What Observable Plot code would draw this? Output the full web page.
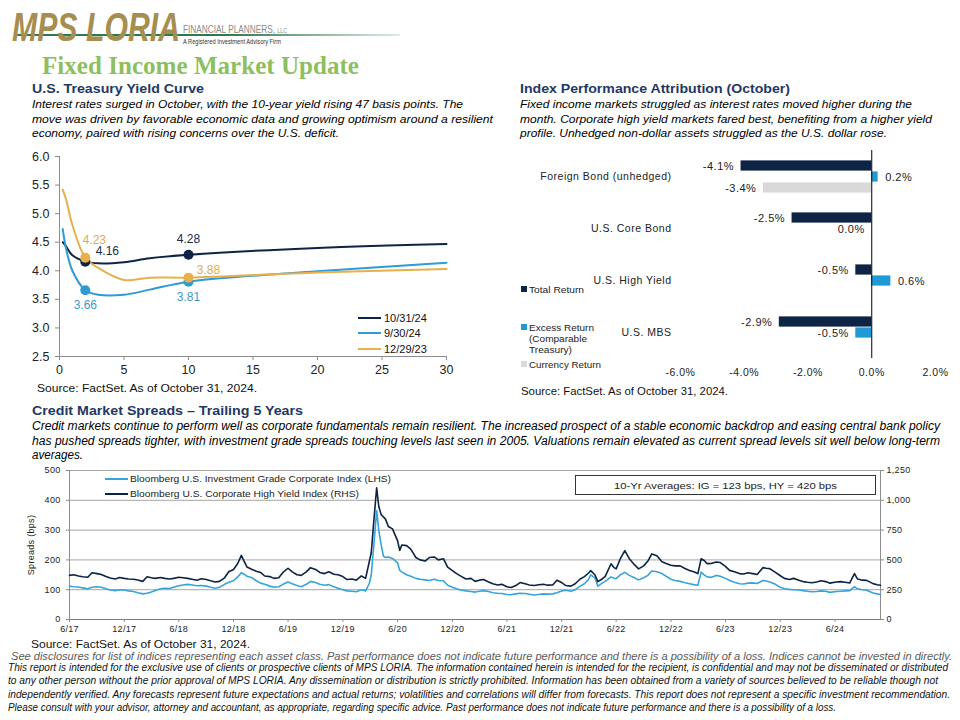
<!DOCTYPE html>
<html><head><meta charset="utf-8">
<script src="https://cdn.jsdelivr.net/npm/d3@7"></script>
<script src="https://cdn.jsdelivr.net/npm/@observablehq/plot@0.6"></script>
<style>
body{margin:0;background:#fff}
#page{position:relative;width:960px;height:720px;overflow:hidden;font-family:'Liberation Sans',Arial,sans-serif;color:#000;background:#fff}
.abs{position:absolute;white-space:nowrap}
.fit{display:inline-block;transform-origin:0 50%}
.chart{position:absolute}
.chart svg{overflow:visible}
.bars text{letter-spacing:.5px}
.credit text{letter-spacing:.3px}
</style></head>
<body><div id="page"></div>
<script>
// ---------- DATA ----------
// Yield curve
const yieldMaturities = [0.25, 0.5, 1, 2, 3, 5, 7, 10, 20, 30];
const yieldSeries = ["10/31/24", "9/30/24", "12/29/23"];
const yieldOct24 = [4.50, 4.43, 4.27, 4.16, 4.13, 4.15, 4.22, 4.28, 4.40, 4.47];
const yieldSep24 = [4.73, 4.40, 4.00, 3.66, 3.58, 3.58, 3.67, 3.81, 3.99, 4.14];
const yieldDec23 = [5.42, 5.26, 4.80, 4.23, 4.05, 3.84, 3.88, 3.88, 3.97, 4.03];
const yieldMarked = [2, 10];
const yieldXTicks = [0, 5, 10, 15, 20, 25, 30];
const yieldYTicks = [2.5, 3.0, 3.5, 4.0, 4.5, 5.0, 5.5, 6.0];

// Index performance attribution
const barCategories = ["Foreign Bond (unhedged)", "U.S. Core Bond", "U.S. High Yield", "U.S. MBS"];
const barSeries = ["Total Return", "Excess Return (Comparable Treasury)", "Currency Return"];
const totalReturn = [-4.1, -2.5, -0.5, -2.9];
const excessReturn = [0.2, 0.0, 0.6, -0.5];
const currencyReturn = [-3.4, null, null, null];
const barXTicks = [-6, -4, -2, 0, 2];

// Credit spreads (IG in bps, left axis; HY in bps, right axis)
const creditDates = [
"2017-06-01","2017-06-15","2017-07-01","2017-07-15","2017-08-01","2017-08-15","2017-09-01","2017-09-15","2017-10-01","2017-10-15","2017-11-01","2017-11-15","2017-12-01","2017-12-15",
"2018-01-01","2018-01-15","2018-02-01","2018-02-15","2018-03-01","2018-03-15","2018-04-01","2018-04-15","2018-05-01","2018-05-15","2018-06-01","2018-06-15","2018-07-01","2018-07-15","2018-08-01","2018-08-15","2018-09-01","2018-09-15","2018-10-01","2018-10-15","2018-11-01","2018-11-15","2018-12-01","2018-12-15","2018-12-27",
"2019-01-05","2019-01-15","2019-02-01","2019-02-15","2019-03-01","2019-03-15","2019-04-01","2019-04-15","2019-05-01","2019-05-15","2019-06-01","2019-06-15","2019-07-01","2019-07-15","2019-08-01","2019-08-15","2019-09-01","2019-09-15","2019-10-01","2019-10-15","2019-11-01","2019-11-15","2019-12-01","2019-12-15",
"2020-01-01","2020-01-15","2020-02-01","2020-02-15","2020-02-27","2020-03-05","2020-03-12","2020-03-23","2020-03-30","2020-04-07","2020-04-15","2020-04-22","2020-05-01","2020-05-15","2020-06-01","2020-06-08","2020-06-15","2020-07-01","2020-07-15","2020-08-01","2020-08-15","2020-09-01","2020-09-15","2020-10-01","2020-10-15","2020-11-01","2020-11-15","2020-12-01","2020-12-15",
"2021-01-01","2021-01-15","2021-02-01","2021-02-15","2021-03-01","2021-03-15","2021-04-01","2021-04-15","2021-05-01","2021-05-15","2021-06-01","2021-06-15","2021-07-01","2021-07-15","2021-08-01","2021-08-15","2021-09-01","2021-09-15","2021-10-01","2021-10-15","2021-11-01","2021-11-15","2021-12-01","2021-12-15",
"2022-01-01","2022-01-15","2022-02-01","2022-02-15","2022-03-01","2022-03-08","2022-03-22","2022-04-01","2022-04-15","2022-04-25","2022-05-15","2022-05-25","2022-06-01","2022-06-15","2022-06-30","2022-07-15","2022-08-01","2022-08-15","2022-09-01","2022-09-15","2022-09-28","2022-10-15","2022-11-01","2022-11-15","2022-12-01","2022-12-15",
"2023-01-01","2023-01-15","2023-02-01","2023-02-15","2023-03-01","2023-03-12","2023-03-22","2023-04-01","2023-04-15","2023-05-01","2023-05-15","2023-06-01","2023-06-15","2023-07-01","2023-07-18","2023-08-01","2023-08-15","2023-09-01","2023-09-15","2023-10-04","2023-10-15","2023-10-27","2023-11-15","2023-11-29","2023-12-15",
"2024-01-01","2024-01-15","2024-02-01","2024-02-15","2024-03-01","2024-03-15","2024-04-01","2024-04-15","2024-05-01","2024-05-15","2024-06-05","2024-06-20","2024-07-05","2024-07-20","2024-08-05","2024-08-15","2024-09-01","2024-09-15","2024-10-06","2024-10-20","2024-10-31"];
const igSpread = [
112,110,109,106,103,108,110,108,103,99,97,100,99,96,
94,90,86,88,92,97,103,105,104,108,113,116,118,116,113,114,112,108,105,108,118,125,130,143,157,
152,145,140,130,122,118,112,108,110,118,126,120,114,110,118,128,124,118,115,117,110,105,100,96,
95,93,100,96,120,150,230,366,300,250,212,208,210,205,190,165,160,150,145,138,135,133,131,135,131,130,115,108,103,
98,96,94,92,95,97,94,90,88,87,84,83,86,88,87,85,82,84,86,85,86,90,96,98,
95,100,112,120,135,150,140,112,122,128,143,138,137,150,158,148,140,133,140,148,163,160,154,145,135,131,
128,124,120,117,115,159,150,143,142,148,145,138,131,125,120,119,122,123,121,131,129,126,118,109,103,
101,100,99,97,95,93,94,96,95,91,94,95,96,97,110,103,100,98,89,86,84];
const hySpread = [
370,375,365,358,355,392,385,378,360,348,340,352,345,340,
338,332,320,358,350,345,352,345,340,345,355,350,345,338,330,342,335,325,315,320,350,400,420,470,538,
490,440,420,405,395,365,360,345,350,395,430,400,375,370,400,435,420,395,385,400,380,375,360,335,
340,330,365,345,480,560,780,1105,950,880,860,840,780,760,660,580,625,620,590,520,500,490,520,525,500,510,440,410,385,
360,340,345,320,330,335,315,300,290,295,275,268,285,310,300,290,285,292,295,288,290,330,310,285,
280,300,340,360,390,410,375,318,340,360,468,435,425,510,578,510,460,425,450,490,550,535,485,470,455,450,
450,430,412,400,385,510,495,469,470,482,478,445,412,400,385,382,392,385,378,435,430,427,395,371,345,
335,345,330,318,312,308,315,325,318,305,315,318,312,306,385,340,330,328,301,292,287];
const creditLeftTicks = [0, 100, 200, 300, 400, 500];
const creditRightTicks = [0, 250, 500, 750, 1000, 1250];
const creditXTicks = ["2017-06-01","2017-12-01","2018-06-01","2018-12-01","2019-06-01","2019-12-01","2020-06-01","2020-12-01","2021-06-01","2021-12-01","2022-06-01","2022-12-01","2023-06-01","2023-12-01","2024-06-01"];
const creditSeries = ["Bloomberg U.S. Investment Grade Corporate Index (LHS)", "Bloomberg U.S. Corporate High Yield Index (RHS)"];

// ---------- STYLE ----------
const NAVY = "#0e2444", BLUE = "#2e9bd5", GOLD = "#e8b04b", GRAY = "#d9d9d9";
const HEAD = "#1f3864";
const SANS = "'Liberation Sans', Arial, sans-serif";
const NARROW = "'Liberation Sans Narrow', 'Liberation Sans', Arial, sans-serif";

const page = document.getElementById("page");
function addText(text, x, cy, font, w, color = "#000", lh = 16, html = false) {
  const div = document.createElement("div");
  div.className = "abs";
  div.style.font = font;
  div.style.lineHeight = lh + "px";
  div.style.left = x + "px";
  div.style.top = (cy - lh / 2) + "px";
  div.style.color = color;
  const span = document.createElement("span");
  span.className = "fit";
  if (html) span.innerHTML = text; else span.textContent = text;
  div.appendChild(span);
  page.appendChild(div);
  if (w) {
    const nw = span.getBoundingClientRect().width;
    span.style.transform = `scaleX(${w / nw})`;
  }
  return div;
}
function addBox(x, y, w, h, css) {
  const d = document.createElement("div");
  d.className = "abs";
  d.style.cssText += `left:${x}px;top:${y}px;width:${w}px;height:${h}px;` + css;
  page.appendChild(d);
  return d;
}

// ---------- HEADER ----------
addBox(15, 34, 385, 2, "background:linear-gradient(to right,#2f7a4c 0%,#2f7a4c 55%,rgba(47,122,76,0.15) 100%)");
const logo = addText("MPS LORIA", 12, 27, `bold 41px ${NARROW}`, 168, "#a68d50", 40);
logo.querySelector("span").style.fontStyle = "italic";
addText("FINANCIAL PLANNERS, <span style='font-size:7px'>LLC</span>", 183, 29, `11px ${NARROW}`, 104, "#8a8a8a", 14, true);
addText("A Registered Investment Advisory Firm", 183, 42, `6.5px ${SANS}`, 98, "#333", 8);
addText("Fixed Income Market Update", 42, 66, `bold 25px 'Liberation Serif', serif`, 317, "#8dbf5e", 28);

// ---------- SECTION TEXT ----------
addText("U.S. Treasury Yield Curve", 32, 89, `bold 13px ${SANS}`, 172, HEAD);
[["Interest rates surged in October, with the 10-year yield rising 47 basis points. The", 431],
 ["move was driven by favorable economic data and growing optimism around a resilient", 461],
 ["economy, paired with rising concerns over the U.S. deficit.", 307]]
 .forEach(([t, w], i) => addText(t, 32, 104 + i * 14.5, `italic 11px ${SANS}`, w));

addText("Index Performance Attribution (October)", 520, 89, `bold 13px ${SANS}`, 270, HEAD);
[["Fixed income markets struggled as interest rates moved higher during the", 392],
 ["month. Corporate high yield markets fared best, benefiting from a higher yield", 412],
 ["profile. Unhedged non-dollar assets struggled as the U.S. dollar rose.", 367]]
 .forEach(([t, w], i) => addText(t, 520, 104 + i * 14.5, `italic 11px ${SANS}`, w));

addText("Credit Market Spreads \u2013 Trailing 5 Years", 32, 411, `bold 13px ${SANS}`, 271, HEAD);
[["Credit markets continue to perform well as corporate fundamentals remain resilient. The increased prospect of a stable economic backdrop and easing central bank policy", 908],
 ["has pushed spreads tighter, with  investment grade spreads touching levels last seen in 2005. Valuations remain elevated as current spread levels sit well below long-term", 908],
 ["averages.", 51]]
 .forEach(([t, w], i) => addText(t, 32, 426 + i * 14.5, `italic 12px ${NARROW}`, w));

// ---------- YIELD CURVE CHART ----------
const yieldValues = [yieldOct24, yieldSep24, yieldDec23];
const yieldRows = yieldSeries.flatMap((s, i) => yieldMaturities.map((m, j) => ({series: s, maturity: m, value: yieldValues[i][j]})));
const yieldColors = [NAVY, BLUE, GOLD];
const yieldLabelColors = ["#1b2b4a", "#3a9ad0", "#e3ad47"];
const marked = yieldRows.filter(d => yieldMarked.includes(d.maturity));
const labelOffsets = {
  "10/31/24|2": [22, -10], "10/31/24|10": [0, -16],
  "9/30/24|2": [0, 15], "9/30/24|10": [0, 15.5],
  "12/29/23|2": [9, -17], "12/29/23|10": [20, -7]
};
const yieldLabelMarks = marked.map(d => {
  const [dx, dy] = labelOffsets[d.series + "|" + d.maturity];
  return Plot.text([d], {x: "maturity", y: "value", text: r => r.value.toFixed(2), dx, dy,
    fill: yieldLabelColors[yieldSeries.indexOf(d.series)], fontSize: 12});
});
const yieldPlot = Plot.plot({
  width: 460, height: 260, marginLeft: 59, marginRight: 14, marginTop: 16, marginBottom: 44,
  style: {fontFamily: SANS, fontSize: "12.5px", background: "transparent", color: "#222"},
  x: {domain: [0, 30]},
  y: {domain: [2.5, 6]},
  color: {domain: yieldSeries, range: yieldColors},
  marks: [
    Plot.frame({anchor: "left", stroke: "#8c8c8c"}),
    Plot.frame({anchor: "bottom", stroke: "#8c8c8c"}),
    Plot.axisY({ticks: yieldYTicks, tickFormat: d3.format(".1f"), tickSize: 4, tickPadding: 6, stroke: "#8c8c8c", label: null}),
    Plot.axisX({ticks: yieldXTicks, tickSize: 4, tickPadding: 5, stroke: "#8c8c8c", label: null}),
    Plot.line(yieldRows, {x: "maturity", y: "value", stroke: "series", z: "series", curve: "catmull-rom", strokeWidth: 2}),
    Plot.dot(marked, {x: "maturity", y: "value", fill: "series", r: 5}),
    ...yieldLabelMarks
  ]
});
const yDiv = document.createElement("div"); yDiv.className = "chart";
yDiv.style.left = "0px"; yDiv.style.top = "140px";
yDiv.appendChild(yieldPlot); page.appendChild(yDiv);

yieldSeries.forEach((s, i) => {
  const cy = [317.5, 333, 349][i];
  addBox(358, cy - 1, 23, 2, `background:${yieldColors[i]}`);
  addText(s, 384, cy, `11px ${SANS}`, null, "#111");
});
addText("Source:  FactSet. As of October 31, 2024.", 37, 388, `11px ${SANS}`, 220, "#111");

// ---------- BAR CHART ----------
const barValues = [totalReturn, excessReturn, currencyReturn];
const barColors = [NAVY, "#1f9ad6", GRAY];
const barRows = barCategories.flatMap((c, i) => barSeries.map((s, k) => ({cat: c, series: s, value: barValues[k][i]})))
  .filter(d => d.value != null);
const pct = d => d.value.toFixed(1) + "%";
const barPlot = Plot.plot({
  className: "bars",
  width: 460, height: 260, marginLeft: 180, marginRight: 25, marginTop: 10, marginBottom: 42,
  style: {fontFamily: SANS, fontSize: "10.5px", background: "transparent", color: "#222"},
  x: {domain: [-6, 2], ticks: barXTicks, tickFormat: d => d.toFixed(1) + "%", tickSize: 0, tickPadding: 10, label: null},
  y: {domain: barSeries, axis: null, paddingInner: 0, paddingOuter: 0.76},
  fy: {domain: barCategories, padding: 0, label: null, axis: "left", tickSize: 0, tickPadding: 9},
  color: {domain: barSeries, range: barColors},
  marks: [
    Plot.barX(barRows, {x: "value", y: "series", fy: "cat", fill: "series", insetTop: 0.4, insetBottom: 0.4}),
    Plot.ruleX([0], {stroke: "#000", strokeWidth: 1}),
    Plot.text(barRows.filter(d => d.value > 0), {x: "value", y: "series", fy: "cat", text: pct, textAnchor: "start", dx: 7, fontSize: 11, fill: "#222"}),
    Plot.text(barRows.filter(d => d.value <= 0), {x: "value", y: "series", fy: "cat", text: pct, textAnchor: "end", dx: -7, fontSize: 11, fill: "#222"})
  ]
});
const bDiv = document.createElement("div"); bDiv.className = "chart";
bDiv.style.left = "500px"; bDiv.style.top = "140px";
bDiv.appendChild(barPlot); page.appendChild(bDiv);

// bar legend
const legFont = `9.5px ${SANS}`;
addBox(521, 286, 6, 6, `background:${barColors[0]}`);
addText("Total Return", 529, 289, legFont, 55, "#222", 11);
addBox(521, 324, 6, 6, `background:${barColors[1]}`);
addText("Excess Return", 529, 327, legFont, 65, "#222", 11);
addText("(Comparable", 529, 338, legFont, 58, "#222", 11);
addText("Treasury)", 529, 349, legFont, 43, "#222", 11);
addBox(521, 361, 6, 6, `background:${barColors[2]}`);
addText("Currency Return", 529, 364, legFont, 72, "#222", 11);
addText("Source: FactSet. As of October 31, 2024.", 521, 391, `10.5px ${SANS}`, 207, "#111");

// ---------- CREDIT SPREADS CHART ----------
const creditRows = creditDates.map((d, i) => ({date: new Date(d), ig: igSpread[i], hy: hySpread[i]}));
const hyToLeft = creditLeftTicks[creditLeftTicks.length - 1] / creditRightTicks[creditRightTicks.length - 1];
const IGC = "#35a4da", HYC = "#0d2343";
const creditPlot = Plot.plot({
  className: "credit",
  width: 960, height: 180, marginLeft: 69, marginRight: 80, marginTop: 10, marginBottom: 21,
  style: {fontFamily: SANS, fontSize: "9px", background: "transparent", color: "#222"},
  x: {type: "utc", domain: [new Date("2017-06-01"), new Date("2024-10-31")]},
  y: {domain: [0, 500]},
  marks: [
    Plot.gridY({ticks: creditLeftTicks, stroke: "#a6a6a6", strokeOpacity: 1}),
    Plot.frame({anchor: "left", stroke: "#8c8c8c"}),
    Plot.frame({anchor: "right", stroke: "#8c8c8c"}),
    Plot.frame({anchor: "bottom", stroke: "#7f7f7f"}),
    Plot.axisY({ticks: creditLeftTicks, tickSize: 3, tickPadding: 6, stroke: "#8c8c8c",
      label: "Spreads (bps)", labelAnchor: "center", labelArrow: "none", labelOffset: 42}),
    Plot.axisY({anchor: "right", ticks: creditRightTicks.map(v => v * hyToLeft),
      tickFormat: v => d3.format(",")(Math.round(v / hyToLeft)), tickSize: 3, tickPadding: 3, stroke: "#8c8c8c", label: null}),
    Plot.axisX({ticks: creditXTicks.map(d => new Date(d)), tickFormat: d3.utcFormat("%-m/%y"), tickSize: 3, tickPadding: 3, stroke: "#8c8c8c", label: null}),
    Plot.line(creditRows, {x: "date", y: "ig", stroke: IGC, strokeWidth: 1.6}),
    Plot.line(creditRows, {x: "date", y: d => d.hy * hyToLeft, stroke: HYC, strokeWidth: 1.6})
  ]
});
const cDiv = document.createElement("div"); cDiv.className = "chart";
cDiv.style.left = "0px"; cDiv.style.top = "460px";
cDiv.appendChild(creditPlot); page.appendChild(cDiv);

// credit legend + average box
addBox(105, 478, 23, 2, `background:${IGC}`);
addText(creditSeries[0], 130, 479, `9px ${SANS}`, 261, "#222", 12);
addBox(105, 493, 23, 2, `background:${HYC}`);
addText(creditSeries[1], 130, 494, `9px ${SANS}`, 229, "#222", 12);
addBox(575, 475, 301, 20, "border:1px solid #333;background:#fff;box-sizing:border-box");
addText("10-Yr Averages:  IG = 123 bps, HY = 420 bps", 614, 485.5, `9px ${SANS}`, 223, "#222", 12);

// ---------- FOOTER ----------
addText("Source: FactSet. As of October 31, 2024.", 31, 644, `10.5px ${SANS}`, 219, "#111", 12);
addText("See disclosures for list of indices representing each asset class. Past performance does not indicate future performance and there is a possibility of a loss. Indices cannot be invested in directly.",
  11, 655.5, `italic 11px ${NARROW}`, 941, "#595959", 12);
[["This report is intended for the exclusive use of clients or prospective clients of MPS LORIA. The information contained herein is intended for the recipient, is confidential and may not be disseminated or distributed", 940],
 ["to any other person without the prior approval of MPS LORIA. Any dissemination or distribution is strictly prohibited. Information has been obtained from a variety of sources believed to be reliable though not", 930],
 ["independently verified. Any forecasts represent future expectations and actual returns; volatilities and correlations will differ from forecasts. This report does not represent a specific investment recommendation.", 942],
 ["Please consult with your advisor, attorney and accountant, as appropriate, regarding specific advice. Past performance does not indicate future performance and there is a possibility of a loss.", 828]]
 .forEach(([t, w], i) => addText(t, 8, 668 + i * 13.3, `italic 10px ${NARROW}`, w, "#111", 12));
</script>
</body></html>
